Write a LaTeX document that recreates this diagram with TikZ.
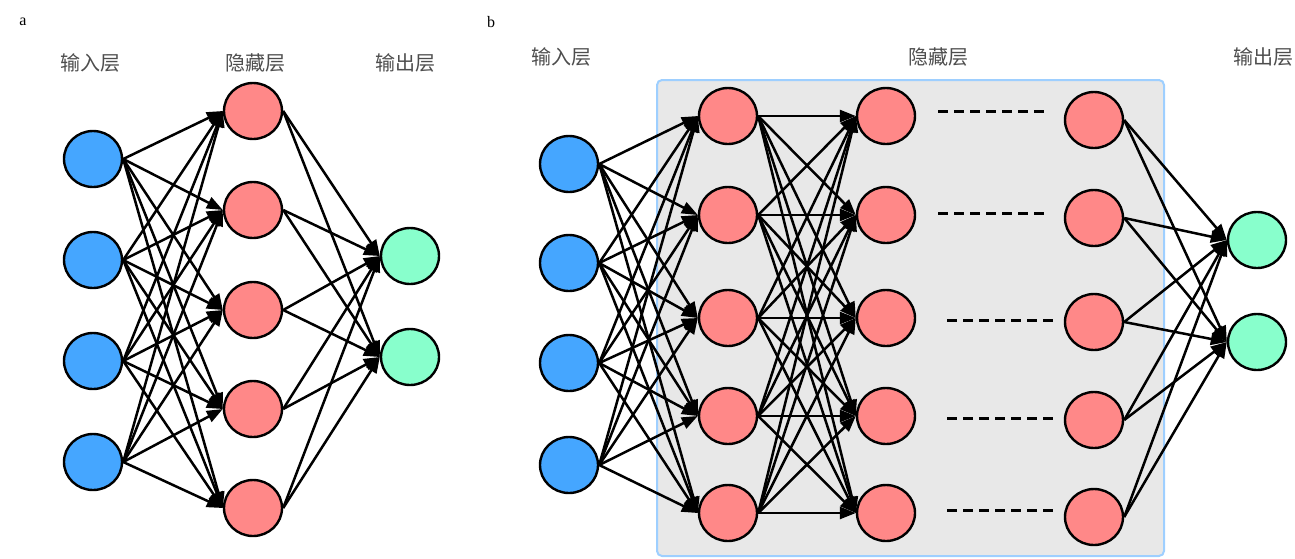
\documentclass[tikz,border=0pt]{standalone}
\usepackage{fontspec}
\setmainfont{Liberation Serif}
\newfontfamily\cjk{Noto Sans CJK SC}
\usetikzlibrary{arrows.meta,shapes.geometric}

\definecolor{inblue}{HTML}{45A6FF}
\definecolor{hidred}{HTML}{FF8888}
\definecolor{outgreen}{HTML}{88FFCC}
\definecolor{labelgray}{HTML}{4D4D4D}
\definecolor{boxgray}{HTML}{E8E8E8}
\definecolor{boxblue}{HTML}{9ECFFF}

\begin{document}
\begin{tikzpicture}[x=1pt,y=-1pt,
    neuron/.style={ellipse,draw,line width=2.4pt,minimum width=58pt,minimum height=56pt,inner sep=0pt},
    inp/.style={neuron,fill=inblue},
    hid/.style={neuron,fill=hidred},
    outp/.style={neuron,fill=outgreen},
    layer/.style={font=\cjk\fontsize{20}{24}\selectfont,text=labelgray},
    panel/.style={font=\fontsize{16}{18}\selectfont},
    conn/.style={line width=2.5pt,-{Triangle[length=16pt,width=12pt]}},
    gap/.style={line width=3pt,dash pattern=on 10pt off 6pt}]
\useasboundingbox (0,0) rectangle (1295,558);

% panel a
\node[panel] (a) at (23,22) {a};
\node[layer] (a_lin) at (90,63) {输入层};
\node[layer] (a_lhid) at (255,63) {隐藏层};
\node[layer] (a_lout) at (405,63) {输出层};

\foreach \y [count=\i] in {159,260,361,462}
    \node[inp] (a_i\i) at (93,\y) {};
\foreach \y [count=\i] in {111,210,310,409,508}
    \node[hid] (a_h\i) at (253,\y) {};
\foreach \y [count=\i] in {256,357}
    \node[outp] (a_o\i) at (410,\y) {};

\foreach \i in {1,...,4}
    \foreach \j in {1,...,5}
        \draw[conn] (a_i\i.east) -- (a_h\j.west);
\foreach \i in {1,...,5}
    \foreach \j in {1,2}
        \draw[conn] (a_h\i.east) -- (a_o\j.west);

% panel b
\node[panel] (b) at (491,22) {b};
\node[layer] (b_lin) at (561,57) {输入层};
\node[layer] (b_lhid) at (938,57) {隐藏层};
\node[layer] (b_lout) at (1263,57) {输出层};

\draw[boxblue,fill=boxgray,line width=2pt,rounded corners=5pt] (657,80) rectangle (1164,556);

\foreach \y [count=\i] in {164,263,363,465}
    \node[inp] (b_i\i) at (569,\y) {};
\foreach \y [count=\i] in {116,215,318,416,513} {
    \node[hid] (b_h\i) at (728,\y) {};
    \node[hid] (b_k\i) at (886,\y) {};
}
\foreach \y [count=\i] in {120,218,322,420,517}
    \node[hid] (b_n\i) at (1094,\y) {};
\foreach \y [count=\i] in {240,342}
    \node[outp] (b_o\i) at (1257,\y) {};

\foreach \i in {1,...,4}
    \foreach \j in {1,...,5}
        \draw[conn] (b_i\i.east) -- (b_h\j.west);
\foreach \i in {1,...,5}
    \foreach \j in {1,...,5}
        \draw[conn] (b_h\i.east) -- (b_k\j.west);
\foreach \i in {1,...,5}
    \foreach \j in {1,2}
        \draw[conn] (b_n\i.east) -- (b_o\j.west);

% ellipsis between hidden layers
\foreach \x/\y in {938/111,938/213,947/320,947/418,947/510}
    \draw[gap] (\x,\y) -- ++(108,0);

\end{tikzpicture}
\end{document}
